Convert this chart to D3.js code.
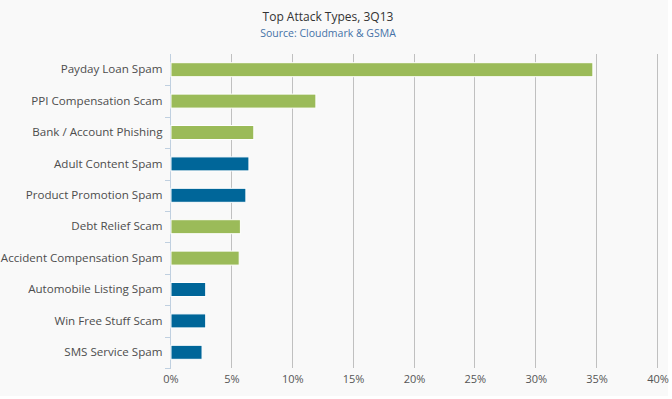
<!DOCTYPE html>
<html>
<head>
<meta charset="utf-8">
<script src="https://cdn.jsdelivr.net/npm/d3@7"></script>
<style>
  body { margin: 0; background: #fff; }
  #chart { width: 672px; height: 399px; }
  text { font-family: "Open Sans", "DejaVu Sans", sans-serif; }
</style>
</head>
<body>
<div id="chart"></div>
<script>
// chart data
const categories = [
    "Payday Loan Spam", "PPI Compensation Scam", "Bank / Account Phishing",
    "Adult Content Spam", "Product Promotion Spam", "Debt Relief Scam",
    "Accident Compensation Spam", "Automobile Listing Spam",
    "Win Free Stuff Scam", "SMS Service Spam"
];
const values = [34.65, 11.9, 6.8, 6.4, 6.15, 5.7, 5.6, 2.85, 2.85, 2.55];
const groups = ["g", "g", "g", "b", "b", "g", "g", "b", "b", "b"];
const xTicks = [0, 5, 10, 15, 20, 25, 30, 35, 40];

const colors = { g: "#9bbb59", b: "#006699" };

const W = 672, H = 399;
const margin = { top: 54, right: 15, bottom: 31, left: 170 };
const width = W - margin.left - margin.right;
const height = H - margin.top - margin.bottom;

const svg = d3.select("#chart").append("svg")
    .attr("width", W)
    .attr("height", H);

svg.append("rect")
    .attr("width", 668).attr("height", 396)
    .attr("fill", "#f9f9f9");

// titles
svg.append("text")
    .attr("x", 328).attr("y", 21)
    .attr("text-anchor", "middle")
    .attr("font-size", 12)
    .attr("fill", "#333")
    .text("Top Attack Types, 3Q13");

svg.append("text")
    .attr("x", 328).attr("y", 37)
    .attr("text-anchor", "middle")
    .attr("font-size", 10.5)
    .attr("fill", "#4572a7")
    .text("Source: Cloudmark & GSMA");

const x = d3.scaleLinear().domain([0, 40]).range([0, 487]);
const y = d3.scaleBand().domain(categories).range([0, height]);

const plot = svg.append("g")
    .attr("transform", `translate(${margin.left},${margin.top})`);

// vertical gridlines
plot.selectAll(".grid")
    .data(xTicks.filter(d => d > 0))
    .enter().append("line")
    .attr("class", "grid")
    .attr("x1", d => Math.round(x(d)) + 0.5)
    .attr("x2", d => Math.round(x(d)) + 0.5)
    .attr("y1", 0)
    .attr("y2", height)
    .attr("stroke", "#c0c0c0");

// x axis labels
const xAxis = d3.axisBottom(x)
    .tickValues(xTicks)
    .tickSize(0)
    .tickPadding(7)
    .tickFormat(d => d + "%");

const gx = plot.append("g")
    .attr("transform", `translate(0.5,${height})`)
    .call(xAxis);
gx.select(".domain").remove();
gx.selectAll("text")
    .attr("font-size", 11)
    .attr("fill", "#555")
    .attr("font-family", "Open Sans, DejaVu Sans, sans-serif");

// y axis
const yAxis = d3.axisLeft(y)
    .tickSize(0)
    .tickPadding(8);

const gy = plot.append("g")
    .attr("transform", "translate(0.5,0)")
    .call(yAxis);
gy.select(".domain").remove();
gy.selectAll("text")
    .attr("font-size", 11.6)
    .attr("fill", "#4d4d4d")
    .attr("font-family", "Open Sans, DejaVu Sans, sans-serif");

// category boundary ticks
const bounds = d3.range(categories.length + 1).map(i => i * y.step());
plot.selectAll(".ytick")
    .data(bounds.slice(1))
    .enter().append("line")
    .attr("x1", -5).attr("x2", 0.5)
    .attr("y1", d => Math.round(d) + 0.5)
    .attr("y2", d => Math.round(d) + 0.5)
    .attr("stroke", "#c0d0e0");

plot.append("line")
    .attr("x1", 0.5).attr("x2", 0.5)
    .attr("y1", 0).attr("y2", height + 1)
    .attr("stroke", "#c0d0e0");

// bars
plot.selectAll(".bar")
    .data(values)
    .enter().append("rect")
    .attr("class", "bar")
    .attr("x", 1)
    .attr("y", (d, i) => y(categories[i]) + y.step() / 2 - 7)
    .attr("width", d => x(d))
    .attr("height", 14)
    .attr("fill", (d, i) => colors[groups[i]])
    .attr("stroke", "#fff")
    .attr("stroke-width", 1);
</script>
</body>
</html>
